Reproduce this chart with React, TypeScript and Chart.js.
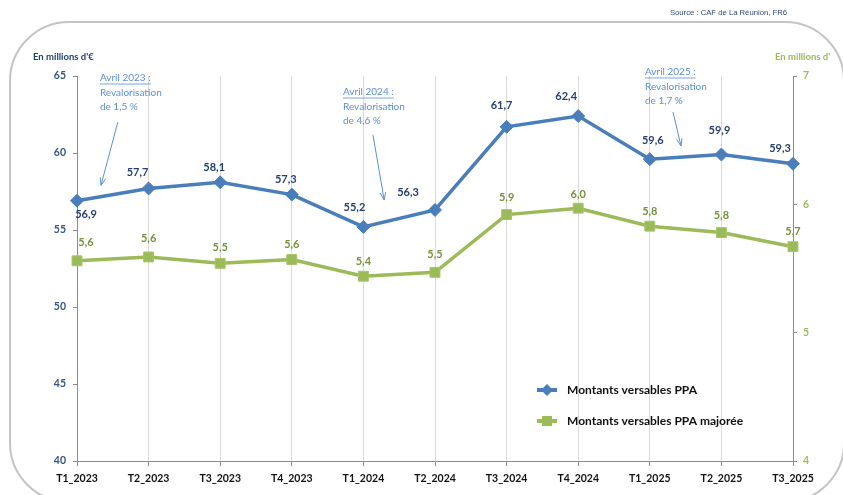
import React, { useEffect, useRef } from 'react';
import { Chart, registerables } from 'chart.js';

Chart.register(...registerables);

// ---------- data ----------
const categories = ['T1_2023', 'T2_2023', 'T3_2023', 'T4_2023', 'T1_2024', 'T2_2024', 'T3_2024', 'T4_2024', 'T1_2025', 'T2_2025', 'T3_2025'];
const montantsPPA = [56.9, 57.7, 58.1, 57.3, 55.2, 56.3, 61.7, 62.4, 59.6, 59.9, 59.3];
const montantsPPAMajoree = [5.56, 5.59, 5.54, 5.57, 5.44, 5.47, 5.92, 5.97, 5.83, 5.78, 5.67];
const leftTickValues = [40, 45, 50, 55, 60, 65];
const rightTickValues = [4, 5, 6, 7];
const seriesNames = ['Montants versables PPA', 'Montants versables PPA majorée'];
const leftAxisTitle = "En millions d'€";
const rightAxisTitle = "En millions d'";
const sourceText = 'Source : CAF de La Réunion, FR6';
const annotationTexts = [
  ['Avril 2023 :', 'Revalorisation', 'de 1,5 %'],
  ['Avril 2024 :', 'Revalorisation', 'de 4,6 %'],
  ['Avril 2025 :', 'Revalorisation', 'de 1,7 %'],
];

// ---------- style ----------
const FONT = 'Lato, "Noto Sans", sans-serif';
const BLUE = '#4a7ebb';
const BLUE_LABEL = '#243f70';
const BLUE_TICK = '#34558b';
const GREEN = '#9bbb59';
const GREEN_LABEL = '#76923c';
const ANNOT = '#5b8fd6';
const AXIS = '#8c8c8c';

// label offsets (px) relative to each point
const blueLabelOffsets = [[9, 14], [-11, -16], [-6, -15], [-6, -15], [-9, -19], [-27, -18], [-5, -21], [-12, -20], [3, -19], [-2, -24], [-13, -15]];
const greenLabelOffsets = [[9, -18], [0, -18], [0, -16], [0, -15], [0, -15], [0, -18], [0, -17], [0, -14], [0, -15], [0, -17], [0, -15]];

// annotation placement in data space: [index, value] of text top-left, arrow start, arrow end
const annotationPlacement = [
  { text: [0.32, 64.87], from: [0.57, 62.0], to: [0.335, 57.9] },
  { text: [3.715, 63.96], from: [4.134, 61.17], to: [4.29, 56.95] },
  { text: [7.933, 65.26], from: [8.324, 62.66], to: [8.436, 60.45] },
];

const fmt = (v: number) => v.toFixed(1).replace('.', ',');

const overlayPlugin = {
  id: 'overlay',
  afterDraw(chart: any) {
    const ctx = chart.ctx as CanvasRenderingContext2D;
    const xs = chart.scales.x;
    const yl = chart.scales.y;
    ctx.save();

    // data labels
    const drawLabels = (dsIndex: number, values: number[], offsets: number[][], color: string) => {
      const meta = chart.getDatasetMeta(dsIndex);
      ctx.font = `bold 11px ${FONT}`;
      ctx.fillStyle = color;
      ctx.textAlign = 'center';
      ctx.textBaseline = 'middle';
      meta.data.forEach((pt: any, i: number) => {
        const o = offsets[i] || [0, -16];
        ctx.fillText(fmt(values[i]), pt.x + o[0], pt.y + o[1]);
      });
    };
    drawLabels(0, montantsPPA, blueLabelOffsets, BLUE_LABEL);
    drawLabels(1, montantsPPAMajoree, greenLabelOffsets, GREEN_LABEL);

    // annotations
    annotationTexts.forEach((lines, k) => {
      const p = annotationPlacement[k];
      const tx = xs.getPixelForValue(p.text[0]);
      const ty = yl.getPixelForValue(p.text[1]);
      ctx.font = `10px ${FONT}`;
      ctx.fillStyle = ANNOT;
      ctx.strokeStyle = ANNOT;
      ctx.textAlign = 'left';
      ctx.textBaseline = 'middle';
      lines.forEach((line, j) => {
        const ly = ty + j * 14.5;
        ctx.fillText(line, tx, ly);
        if (j === 0) {
          const w = ctx.measureText(line).width;
          ctx.lineWidth = 0.8;
          ctx.beginPath();
          ctx.moveTo(tx, ly + 6);
          ctx.lineTo(tx + w, ly + 6);
          ctx.stroke();
        }
      });
      const ax = xs.getPixelForValue(p.from[0]);
      const ay = yl.getPixelForValue(p.from[1]);
      const bx = xs.getPixelForValue(p.to[0]);
      const by = yl.getPixelForValue(p.to[1]);
      ctx.lineWidth = 1;
      ctx.beginPath();
      ctx.moveTo(ax, ay);
      ctx.lineTo(bx, by);
      const ang = Math.atan2(by - ay, bx - ax);
      const L = 8;
      ctx.moveTo(bx - L * Math.cos(ang - 0.35), by - L * Math.sin(ang - 0.35));
      ctx.lineTo(bx, by);
      ctx.lineTo(bx - L * Math.cos(ang + 0.35), by - L * Math.sin(ang + 0.35));
      ctx.stroke();
    });

    // axis titles and source
    ctx.textBaseline = 'middle';
    ctx.font = `bold 9.5px ${FONT}`;
    ctx.fillStyle = '#1f3f73';
    ctx.textAlign = 'left';
    ctx.fillText(leftAxisTitle, 33, 57);
    ctx.fillStyle = GREEN;
    ctx.fillText(rightAxisTitle, 775, 57);
    ctx.font = `7.7px "Liberation Sans", Arial, sans-serif`;
    ctx.fillStyle = '#2e4a7a';
    ctx.textAlign = 'right';
    ctx.fillText(sourceText, 787, 13);

    // legend
    const legendItems = [
      { name: seriesNames[0], color: BLUE, style: 'diamond', y: 390 },
      { name: seriesNames[1], color: GREEN, style: 'square', y: 421 },
    ];
    legendItems.forEach((it) => {
      ctx.strokeStyle = it.color;
      ctx.fillStyle = it.color;
      ctx.lineWidth = 4;
      ctx.beginPath();
      ctx.moveTo(537, it.y);
      ctx.lineTo(557, it.y);
      ctx.stroke();
      ctx.beginPath();
      if (it.style === 'diamond') {
        ctx.moveTo(547, it.y - 6);
        ctx.lineTo(553, it.y);
        ctx.lineTo(547, it.y + 6);
        ctx.lineTo(541, it.y);
        ctx.closePath();
      } else {
        ctx.rect(542, it.y - 5, 10, 10);
      }
      ctx.fill();
      ctx.font = `bold 12px ${FONT}`;
      ctx.fillStyle = '#111';
      ctx.textAlign = 'left';
      ctx.textBaseline = 'middle';
      ctx.fillText(it.name, 567, it.y);
    });

    ctx.restore();
  },
};

export default function App() {
  const canvasRef = useRef<HTMLCanvasElement | null>(null);

  useEffect(() => {
    if (!canvasRef.current) return;
    const tickFont = { family: FONT, size: 10.5, weight: 'bold' as const };
    const chart = new Chart(canvasRef.current, {
      type: 'line',
      data: {
        labels: categories,
        datasets: [
          {
            label: seriesNames[0],
            data: montantsPPA,
            yAxisID: 'y',
            borderColor: BLUE,
            backgroundColor: BLUE,
            borderWidth: 3.5,
            pointStyle: 'rectRot',
            pointRadius: 6.5,
            pointBorderWidth: 1,
            pointBorderColor: BLUE,
            pointBackgroundColor: BLUE,
            tension: 0,
          },
          {
            label: seriesNames[1],
            data: montantsPPAMajoree,
            yAxisID: 'y1',
            borderColor: GREEN,
            backgroundColor: GREEN,
            borderWidth: 3.5,
            pointStyle: 'rect',
            pointRadius: 7,
            pointBorderWidth: 1,
            pointBorderColor: '#a6c46a',
            pointBackgroundColor: GREEN,
            tension: 0,
          },
        ],
      },
      options: {
        responsive: false,
        animation: false,
        devicePixelRatio: 1,
        layout: { padding: { top: 76, left: 0, right: 0, bottom: 0 } },
        plugins: {
          legend: { display: false },
          tooltip: { enabled: false },
          title: { display: false },
        },
        scales: {
          x: {
            type: 'category',
            offset: false,
            grid: { color: '#dadada', lineWidth: 1, tickColor: AXIS, tickLength: 5, drawOnChartArea: true },
            border: { color: AXIS, width: 1 },
            ticks: { font: tickFont, color: '#111', padding: 6, maxRotation: 0, autoSkip: false },
            afterFit: (s: any) => { s.height = 34; },
          },
          y: {
            position: 'left',
            min: 40,
            max: 65,
            afterBuildTicks: (s: any) => { s.ticks = leftTickValues.map((v) => ({ value: v })); },
            grid: { drawOnChartArea: false, tickLength: 4, tickColor: AXIS },
            border: { color: AXIS, width: 1 },
            ticks: { font: tickFont, color: BLUE_TICK, padding: 7 },
            afterFit: (s: any) => { s.width = 77; },
          },
          y1: {
            position: 'right',
            min: 4,
            max: 7,
            afterBuildTicks: (s: any) => { s.ticks = rightTickValues.map((v) => ({ value: v })); },
            grid: { drawOnChartArea: false, tickLength: 4, tickColor: AXIS },
            border: { color: AXIS, width: 1 },
            ticks: { font: tickFont, color: GREEN, padding: 6 },
            afterFit: (s: any) => { s.width = 50; },
          },
        },
      },
      plugins: [overlayPlugin],
    });
    return () => chart.destroy();
  }, []);

  return (
    <div style={{ position: 'fixed', left: 0, top: 0, width: 843, height: 495, background: '#fff', overflow: 'hidden' }}>
      <canvas ref={canvasRef} width={843} height={495} style={{ position: 'absolute', left: 0, top: 0, width: 843, height: 495 }} />
      <div
        style={{
          position: 'absolute',
          left: 9,
          top: 21,
          width: 836,
          height: 482,
          boxSizing: 'border-box',
          border: '2px solid #c4c4c4',
          borderRadius: 60,
          pointerEvents: 'none',
        }}
      />
    </div>
  );
}
